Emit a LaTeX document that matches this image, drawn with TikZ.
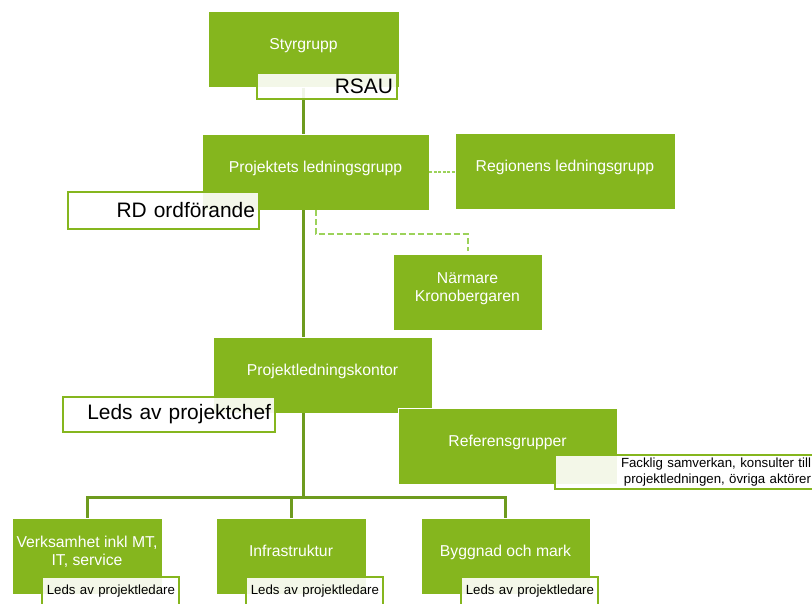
\documentclass[tikz,border=0pt]{standalone}
\usepackage{fontspec}
\setmainfont{Liberation Sans}
\definecolor{leaf}{HTML}{85B61E}
\definecolor{stem}{HTML}{6E9B1E}
\definecolor{sprout}{HTML}{9CD25A}

\begin{document}
\begin{tikzpicture}[x=1bp,y=-1bp,
  grp/.style={draw=white,line width=0.8bp,fill=leaf,text=white,minimum height=76bp,inner sep=0pt,align=center,font=\fontsize{15.8}{18}\selectfont,text depth=10bp},
  tag/.style={draw=leaf,line width=2bp,fill=white,fill opacity=0.9,text opacity=1,inner xsep=4bp,inner ysep=0pt,align=right},
  tagbig/.style={tag,font=\fontsize{21}{24}\selectfont},
  tagsmall/.style={tag,font=\fontsize{13.3}{16}\selectfont},
  trunk/.style={stem,line width=3bp},
  dots/.style={sprout,line width=2bp,dash pattern=on 6bp off 3bp}]
\useasboundingbox (0,0) rectangle (812,604);
% groups
\node[grp,minimum width=191bp] (sty)   at (303.5,49.5) {Styrgrupp};
\node[grp,minimum width=227bp] (plg)   at (315.5,172)  {Projektets ledningsgrupp};
\node[grp,minimum width=220bp] (reg)   at (565,171)    {Regionens ledningsgrupp};
\node[grp,minimum width=149bp] (nar)   at (467.5,292)  {Närmare\\Kronobergaren};
\node[grp,minimum width=219bp] (plk)   at (322.5,375)  {Projektledningskontor};
\node[grp,minimum width=219bp] (ref)   at (507.5,446)  {Referensgrupper};
\node[grp,minimum width=150bp] (verk)  at (87,556)     {Verksamhet inkl MT,\\IT, service};
\node[grp,minimum width=150bp] (infra) at (291,556)    {Infrastruktur};
\node[grp,minimum width=169bp] (bygg)  at (505.5,556)  {Byggnad och mark};
% lines
\draw[trunk] (sty.south) -- (sty.south |- plg.north);
\draw[trunk] (sty.south |- plg.south) -- (sty.south |- plk.north);
\draw[trunk] (verk.north) -- ++(0,-20) coordinate (bar) -| (bygg.north);
\draw[trunk] (infra.north) -- (infra.north |- bar);
\draw[trunk] (sty.south |- plk.south) -- (sty.south |- bar);
\draw[dots,dash pattern=on 3bp off 1.5bp] (plg.east) -- (plg.east -| reg.west);
\draw[dots] (plg.south) -- ++(0,24) -| ([yshift=3bp]nar.north);
% tags
\node[tagbig,text width=132bp,minimum height=26bp] (rsau) at (327,86)      {RSAU};
\node[tagbig,text width=183bp,minimum height=37bp] (rdo)  at (163.5,210.5) {RD ordförande};
\node[tagbig,text width=204bp,minimum height=35bp] (lpc)  at (169,414.5)   {Leds av projektchef};
\node[tagsmall,text width=252bp,minimum height=34bp] (fack) at (685,472)  {Facklig samverkan, konsulter till\\projektledningen, övriga aktörer};
\node[tagsmall,text width=129bp,minimum height=29bp] (pl1) at (110.5,591.5) {Leds av projektledare};
\node[tagsmall,text width=129bp,minimum height=29bp] (pl2) at (314.5,591.5) {Leds av projektledare};
\node[tagsmall,text width=129bp,minimum height=29bp] (pl3) at (529.5,591.5) {Leds av projektledare};
\end{tikzpicture}
\end{document}
